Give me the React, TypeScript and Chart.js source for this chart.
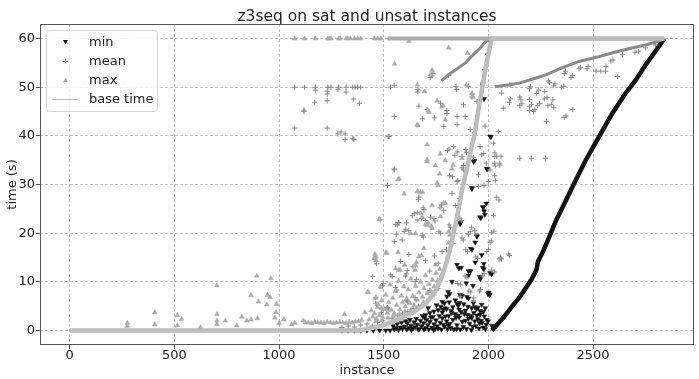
import React, { useEffect, useRef } from "react";
import { Chart, registerables } from "chart.js";

Chart.register(...registerables);

type P = [number, number];

const chartTitle = "z3seq on sat and unsat instances";
const xLabel = "instance";
const yLabel = "time (s)";
const xTicks = [0, 500, 1000, 1500, 2000, 2500];
const yTicks = [0, 10, 20, 30, 40, 50, 60];
const seriesNames = ["min", "mean", "max", "base time"];

const baseTime: P[] = [
  [0, 0], [1380, 0], [1420, 0.3], [1486, 0.9], [1565, 2.2], [1644, 3.8], [1700, 5.5], [1723, 6.7],
  [1750, 8.3], [1771, 10.4], [1790, 12.6], [1802, 14.4], [1823, 17.8], [1834, 20], [1850, 23.3],
  [1874, 28.9], [1900, 33.8], [1920, 37.8], [1935, 40.4], [1950, 44.8], [1968, 49.3], [1985, 53.5],
  [1995, 55.8], [2008, 58.5], [2016, 60], [2840, 60],
];

const minCurve: P[] = [
  [2016, 0], [2071, 2.6], [2110, 4.8], [2150, 6.9], [2205, 10.4], [2229, 12.4], [2237, 14.2],
  [2261, 16.2], [2291, 19.3], [2324, 22.7], [2356, 25.5], [2395, 28.9], [2430, 32], [2466, 35.1],
  [2529, 39.9], [2593, 44.7], [2656, 48.8], [2704, 51.5], [2751, 54.6], [2798, 57.4], [2840, 60],
];

const minAlongBase: P[] = [
  [1780, 11.2], [1795, 13.4], [1810, 16], [1825, 19], [1840, 22], [1855, 25.2], [1870, 28.4],
  [1885, 31.2], [1900, 34.2], [1915, 37.4], [1928, 40.6], [1940, 44], [1952, 47.4], [1964, 50.6],
  [1976, 53.6], [1990, 56.8], [2004, 59.4],
];

const minScatter: P[] = [
  [1979, 47.6], [2012, 39.8], [2008, 39.9], [1934, 34.9], [1929, 34.7], [1995, 33.2], [1992, 33.2],
  [1921, 29.1], [1921, 29.3], [1973, 25.4], [1980, 24.5], [1990, 26.1], [1983, 23.8], [1976, 25.3],
  [1964, 23.1], [1960, 23.3], [1945, 19.5], [1945, 19.3], [1937, 18.1], [1865, 21.9], [1866, 22.1],
  [1921, 16.6], [1916, 16.8], [1968, 15.5], [1850, 13.5], [1905, 12.2], [1915, 12.2], [1973, 12.9],
  [1978, 12.6], [1958, 11], [1962, 10.6], [2008, 11.8], [2016, 11.6], [1978, 13.7], [1937, 14],
  [1826, 10], [1859, 12.8], [1870, 12.9], [1905, 11.3], [1894, 9.7], [1926, 9.2], [1998, 7.5],
  [2002, 7.8], [2006, 7.3], [1802, 7], [1807, 7.9], [1815, 7.5], [1864, 7.3], [1874, 7.1],
  [1897, 6.9], [1905, 6.6], [1779, 5.9], [1790, 5.6], [1850, 5.5], [1856, 5.1], [1862, 5.7],
  [1783, 4.3], [1792, 4.6], [1935, 4.8], [1943, 4.4], [1950, 4.7], [1992, 2.2], [1998, 1.9], [2016, 1],
  [1550, 0.2], [1560, 0.5], [1570, 0.1], [1580, 0.6], [1590, 0.3], [1600, 0.8], [1610, 0.2],
  [1620, 0.5], [1630, 1.0], [1640, 0.4], [1650, 0.7], [1660, 1.2], [1670, 0.3], [1680, 0.9],
  [1690, 1.5], [1700, 0.5], [1710, 1.1], [1720, 1.8], [1730, 0.6], [1740, 1.3], [1750, 2.1],
  [1760, 0.4], [1770, 1.6], [1780, 2.5], [1790, 0.8], [1800, 1.9], [1810, 3.0], [1820, 0.5],
  [1830, 2.2], [1840, 3.4], [1850, 1.1], [1860, 2.7], [1870, 3.8], [1880, 0.7], [1890, 2.0],
  [1900, 3.2], [1910, 1.4], [1920, 2.6], [1930, 3.6], [1940, 0.9], [1950, 2.3], [1960, 3.3],
  [1970, 1.6], [1980, 2.9], [1990, 1.2], [1700, 3.2], [1720, 3.6], [1740, 3.9], [1760, 4.2],
  [1780, 3.7], [1800, 4.4], [1830, 4.8], [1860, 4.3], [1890, 4.1], [1920, 4.6], [1960, 4.0],
  [1975, 3.8], [1655, 2.4], [1675, 2.0], [1695, 2.6], [1715, 0.2], [1735, 2.8], [1755, 0.9],
  [1775, 0.2], [1795, 2.9], [1815, 1.4], [1835, 0.2], [1855, 3.1], [1875, 1.8], [1895, 0.3],
  [1915, 3.0], [1935, 1.9], [1955, 0.4], [1975, 0.6], [1300, 0], [1330, 0], [1360, 0], [1390, 0],
  [1420, 0], [1450, 0], [1480, 0], [1510, 0], [1530, 0],
  [1545, 0.9], [1565, 1.3], [1585, 1.6], [1605, 1.9], [1625, 2.2], [1645, 1.7], [1665, 0.2],
  [1685, 3.0], [1705, 2.2], [1725, 2.7], [1745, 0.3], [1765, 3.0], [1785, 1.2], [1805, 0.3],
  [1825, 3.6], [1845, 2.6], [1865, 0.2], [1885, 3.4], [1905, 2.4], [1925, 0.8], [1945, 3.1],
  [1965, 2.0], [1985, 0.3], [1712, 4.6], [1752, 5.2], [1772, 4.9], [1812, 5.8], [1842, 6.2],
  [1822, 4.0], [1882, 5.4], [1902, 4.9], [1928, 5.6], [1968, 5.3], [1985, 4.6], [1612, 1.5],
  [1632, 0.1], [1692, 0.2], [1738, 0.1], [1808, 1.1], [1848, 0.3], [1918, 0.1], [1958, 1.5],
];

const meanCurveLow: P[] = [
  [2030, 50.1], [2100, 50.5], [2150, 50.9], [2220, 51.8], [2277, 52.6], [2350, 54], [2433, 55.3],
  [2520, 56.2], [2594, 57.1], [2680, 58], [2751, 58.7], [2800, 59.3], [2840, 60],
];

const meanCurveHigh: P[] = [
  [1775, 51.3], [1810, 52.6], [1850, 53.8], [1890, 55], [1930, 56.8], [1960, 58], [1985, 59.3], [2006, 60],
];

const meanScatter: P[] = [
  [1075, 50], [1122, 50], [1173, 50], [1233, 50], [1248, 50], [1285, 50], [1320, 50], [1350, 50],
  [1362, 50], [1375, 50], [1390, 50], [1533, 50], [1119, 45], [1119, 45.3], [1170, 46.9], [1173, 49.4],
  [1230, 47.2], [1230, 49.2], [1230, 48.6], [1281, 49.6], [1320, 49], [1357, 47.6], [1384, 46.7],
  [1075, 41.6], [1230, 41.6], [1281, 40.4], [1296, 40.8], [1315, 39.2], [1315, 40.4], [1357, 39.3],
  [1352, 39.5], [1521, 39.9], [1526, 39.9], [1550, 50.4], [1550, 44], [1550, 33], [1518, 29.8],
  [1483, 22.7], [1557, 21.8], [1663, 49], [1663, 49.6], [1722, 52], [1730, 52.3], [1810, 52.4],
  [1845, 50.1], [1848, 49.6], [1905, 50.2], [1973, 51], [1771, 46.7], [1802, 45.2], [1802, 44.6],
  [1850, 44], [1889, 44], [1881, 46.4], [1921, 48], [1924, 48.6], [1945, 47.1], [1707, 45.4],
  [1668, 46.1], [1684, 43.5], [1742, 43.7], [1787, 41.9], [1850, 42.3], [1913, 41.3], [1960, 37.8],
  [1984, 42], [2024, 38.5], [2047, 40.9], [2031, 36.5], [2040, 35.8], [2060, 35.8], [1990, 34.4],
  [2030, 34.4], [2054, 34.4], [2008, 33], [2054, 34], [2150, 35.4], [2205, 35.4], [2273, 35.4],
  [2000, 30.6], [1953, 32], [1953, 29.6], [1834, 37.8], [1874, 35.8], [1840, 36], [1874, 33.4],
  [1880, 33], [1814, 31.8], [1828, 31.6], [1850, 30.6], [1550, 33.2],
  [2063, 48.8], [2103, 50.5], [2150, 48], [2155, 47.4], [2196, 49.7], [2200, 50.1], [2196, 47.5],
  [2229, 48.7], [2240, 49.4], [2286, 51.3], [2292, 51], [2269, 49.1], [2312, 50.3], [2318, 50.7],
  [2348, 50], [2360, 50.2], [2362, 52.8], [2368, 53.3], [2395, 52], [2402, 52.4], [2433, 53.8],
  [2440, 54.1], [2471, 53.8], [2476, 54.3], [2514, 53.3], [2537, 53.3], [2560, 53.3], [2561, 54.3],
  [2617, 52.2], [2585, 55.4], [2595, 55.6], [2640, 56.7], [2700, 57.2], [2716, 57.4], [2751, 58.1],
  [2798, 58.7], [2150, 46.2], [2160, 46.6], [2196, 46], [2206, 46.4], [2234, 46.2], [2244, 46.6],
  [2215, 45], [2222, 45.4], [2267, 47.6], [2280, 47.9], [2308, 47.4], [2284, 46.2], [2300, 46.5],
  [2312, 45.8], [2362, 43.8], [2370, 44.1], [2403, 45.4], [2277, 43], [2196, 45.2], [2101, 46.9],
  [2105, 47.6], [2071, 45.7],
  [1892, 37.2], [1895, 36.6], [1929, 35.6], [1968, 36.1], [1978, 36.4], [2030, 35.7], [2032, 33.8],
  [2030, 31.8], [2033, 30.8], [1979, 29.8], [2040, 27.4], [2050, 26.8], [2024, 23.6], [2015, 20.1],
  [2026, 20.4], [1913, 20.3], [1905, 19.8], [1920, 21.2], [1850, 36.7], [1812, 37.3], [1805, 37],
  [1881, 33.9], [1854, 30.8], [1826, 28.2], [1862, 27.1], [1842, 25.7], [1787, 24.7], [1723, 23.3],
  [1740, 23], [1745, 22.5], [1665, 26.9], [1668, 27.4], [1688, 25.2], [1692, 24.8], [1636, 23.6],
  [1609, 22.1], [1660, 22.7], [1573, 22.1], [1620, 20.5], [1684, 19.6], [1690, 19.2], [1588, 18.6],
  [1764, 20.3], [1772, 20],
  [1565, 21.7], [1570, 22.2], [1646, 24], [1660, 24.2], [1680, 23], [1700, 22.6], [1598, 20.3],
  [1605, 20.8], [1769, 25.2], [1775, 25.8], [1812, 21.7], [1818, 21.2], [1864, 23.1], [1872, 22.6],
  [1935, 20.5], [1940, 19.8], [1874, 19], [1880, 18.6], [1821, 18.2], [1830, 17.9], [1779, 16.2],
  [1800, 16.6], [1812, 16.2], [1892, 16.6], [1900, 16.2], [1940, 15.1], [1948, 14.8], [1992, 16.2],
  [2000, 16.6], [2051, 14.7], [2058, 14.9], [2062, 14.7], [2095, 15.7], [2100, 15.4], [2008, 18.1],
  [2015, 18.4], [2016, 12.4], [2028, 12], [1973, 11.2], [1980, 11.7], [1888, 11.2], [1897, 10.9],
  [1854, 9.6], [1866, 9.4], [1907, 8.1], [1916, 7.9], [1958, 8.1], [1962, 8.4], [1930, 6.7],
  [1928, 6.1], [1864, 7], [1712, 7.9], [1720, 8.2], [1550, 18.3], [1560, 19.8], [1466, 13.7],
  [1458, 14.6], [1532, 11.4], [1540, 11.1], [1447, 11.1], [1494, 9.2], [1498, 9.6], [1556, 8.8],
  [1562, 8.3], [1603, 11.2], [1608, 11.6], [1612, 12.3], [1650, 10], [1656, 10.5], [1650, 6.7],
  [1656, 6.3], [1608, 6.1], [1614, 5.9], [1518, 4.7], [1522, 4.4], [1462, 5.6], [1462, 6.8],
  [1515, 4.6], [1488, 3.7], [1580, 14.2], [1620, 15.6], [1640, 13.1], [1700, 14.4], [1720, 12.2],
  [1742, 15.3], [1760, 13.8],
  [1300, 0.6], [1330, 0.9], [1360, 0.7], [1390, 1.1], [1420, 1.3], [1445, 0.9], [1470, 1.6],
  [1495, 2.0], [1520, 1.5], [1540, 2.5], [1565, 3.0], [1590, 3.4], [1615, 3.9], [1640, 4.5],
  [1665, 5.0], [1690, 5.6], [1715, 6.4], [1740, 7.3], [1760, 8.6],
];

const maxTimeouts: P[] = [[1518, 60], [2840, 60]];

const maxScatter: P[] = [
  [275, 1.5], [275, 0.9], [406, 3.7], [406, 1.2], [514, 3.1], [534, 2.3], [514, 1.0], [624, 0.6],
  [703, 9.2], [703, 3.3], [703, 2.0], [703, 1.3], [743, 2.0], [798, 1.0], [822, 2.8], [846, 2.0],
  [866, 7.2], [866, 2.2], [893, 11.2], [901, 5.9], [897, 2.5], [941, 5.3], [945, 7.3], [957, 6.8],
  [961, 10.7], [980, 2.6], [985, 3.7], [988, 5.4], [1023, 2.2], [1000, 1.5], [1060, 1.2], [1075, 1.5],
  [1115, 2.0], [1125, 1.6], [1140, 1.6], [1155, 1.5], [1170, 1.7], [1185, 1.6], [1200, 1.6],
  [1215, 1.5], [1230, 1.7], [1245, 1.6], [1260, 1.5], [1275, 1.6], [1290, 1.7], [1312, 3.3],
  [1305, 1.6], [1320, 1.5], [1335, 1.7], [1350, 1.6], [1365, 1.8], [1380, 1.9], [1395, 2.1],
  [1410, 3.7], [1423, 7.9], [1426, 7.8], [1455, 14.9], [1458, 15.7], [1462, 6.7], [1470, 4.8],
  [1483, 8.9], [1488, 4.6], [1515, 15.9], [1557, 12.7],
  [1430, 2.2], [1440, 4.1], [1448, 2.8], [1456, 3.5], [1465, 2.4], [1472, 5.4], [1480, 3.1],
  [1490, 6.2], [1496, 2.7], [1503, 4.4], [1510, 7.3], [1517, 3.6], [1524, 5.8], [1530, 9.4],
  [1536, 4.2], [1543, 6.7], [1550, 3.5], [1556, 8.1], [1562, 5.2], [1570, 10.2], [1577, 4.3],
  [1584, 7.1], [1590, 5.8], [1596, 9.0], [1603, 4.9], [1610, 6.6], [1617, 8.4], [1624, 5.6],
  [1630, 10.6], [1638, 7.0], [1645, 5.2], [1652, 9.1], [1660, 6.3], [1668, 7.8], [1676, 10.0],
  [1684, 6.9], [1692, 8.7], [1700, 11.3], [1708, 7.6], [1716, 9.5], [1724, 8.1], [1732, 10.4],
  [1740, 9.0], [1750, 11.8], [1758, 10.2], [1768, 12.6], [1776, 11.2], [1462, 1.8], [1490, 2.0],
  [1520, 2.6], [1545, 2.9], [1575, 3.3], [1600, 3.9], [1630, 4.2], [1660, 4.6], [1690, 5.8],
  [1075, 60], [1122, 60], [1173, 60], [1233, 60], [1240, 60], [1248, 60], [1285, 60], [1292, 60],
  [1320, 60], [1328, 60], [1340, 60], [1360, 60], [1375, 60], [1390, 60], [1456, 60], [1470, 60],
  [1485, 60], [1620, 59.5],
  [1552, 54.8], [1810, 58.1], [1900, 57], [1731, 53.5], [1722, 52.6], [1736, 53], [1894, 50.5],
  [1921, 48.7], [1926, 48], [1755, 47.2], [1783, 46.3], [1716, 44.9], [1794, 43.3], [1660, 42.3],
  [1663, 42.1], [1660, 50.5], [1695, 49.1], [1779, 46], [1712, 45.2], [1707, 38.2], [1707, 35.1],
  [1707, 34.7], [1770, 36.3], [1794, 35], [1831, 34], [1874, 35.4], [1755, 30.3], [1760, 29.8],
  [1568, 31], [1573, 31.2], [1747, 33.9], [1767, 32.2], [1826, 33.2], [1597, 28.1], [1675, 28.4],
  [1685, 28.4], [1731, 25.7], [1794, 26.2], [1676, 24.1], [1771, 23.4], [1700, 21.8], [1708, 21.6],
  [1628, 19.9], [1810, 20.3], [1815, 19.6], [1810, 18], [1478, 22.9], [1462, 15.1], [1462, 14.4],
  [1510, 16], [1568, 16.1], [1570, 12.4], [1578, 12.4], [1600, 13.5], [1650, 12.4], [1652, 13.3],
  [1656, 14], [1692, 16.9], [1668, 15.2], [1680, 15.4], [1747, 13.5], [1731, 21], [1728, 21.4],
  [1652, 19.9], [1712, 22.1], [1787, 26.2], [1684, 23.3], [1660, 28.6],
];

const toXY = (arr: P[]) => arr.map(([x, y]) => ({ x, y }));

const FONT = '"DejaVu Sans", sans-serif';
const MIN_COLOR = "#141414";
const MEAN_COLOR = "#8a8a8a";
const MAX_COLOR = "#ababab";
const BASE_COLOR = "#bdbdbd";
const SPINE = "#555555";
const GRID = "#b5b5b5";

export default function App() {
  const ref = useRef<HTMLCanvasElement | null>(null);

  useEffect(() => {
    document.body.style.margin = "0";
    const canvas = ref.current;
    if (!canvas) return;

    const decor = {
      id: "decor",
      afterDraw(chart: any) {
        const { ctx, chartArea: a } = chart;
        ctx.save();
        ctx.setLineDash([]);
        ctx.strokeStyle = SPINE;
        ctx.lineWidth = 1;
        ctx.beginPath();
        ctx.moveTo(a.left, a.top + 0.5);
        ctx.lineTo(a.right, a.top + 0.5);
        ctx.moveTo(a.right - 0.5, a.top);
        ctx.lineTo(a.right - 0.5, a.bottom);
        ctx.moveTo(a.left + 0.5, a.top);
        ctx.lineTo(a.left + 0.5, a.bottom);
        ctx.moveTo(a.left, a.bottom - 0.5);
        ctx.lineTo(a.right, a.bottom - 0.5);
        ctx.stroke();

        ctx.fillStyle = "#222";
        ctx.textAlign = "center";
        ctx.textBaseline = "alphabetic";
        ctx.font = `15.5px ${FONT}`;
        ctx.fillText(chartTitle, (a.left + a.right) / 2, 21);
        ctx.font = `13px ${FONT}`;
        ctx.fillText(xLabel, (a.left + a.right) / 2, 374);
        ctx.save();
        ctx.translate(16, (a.top + a.bottom) / 2);
        ctx.rotate(-Math.PI / 2);
        ctx.fillText(yLabel, 0, 0);
        ctx.restore();

        const bx = 46.5, by = 30.5, bw = 111, bh = 81;
        ctx.beginPath();
        ctx.roundRect(bx, by, bw, bh, 3);
        ctx.fillStyle = "rgba(255,255,255,0.8)";
        ctx.fill();
        ctx.strokeStyle = "#d6d6d6";
        ctx.stroke();

        const rows = [42, 61, 80, 99];
        const mx = 65.5;
        ctx.fillStyle = MIN_COLOR;
        ctx.beginPath();
        ctx.moveTo(mx - 2.5, rows[0] - 2);
        ctx.lineTo(mx + 2.5, rows[0] - 2);
        ctx.lineTo(mx, rows[0] + 2.5);
        ctx.closePath();
        ctx.fill();
        ctx.strokeStyle = MEAN_COLOR;
        ctx.lineWidth = 1;
        ctx.beginPath();
        ctx.moveTo(mx - 2.5, rows[1] + 0.5);
        ctx.lineTo(mx + 2.5, rows[1] + 0.5);
        ctx.moveTo(mx, rows[1] - 2.5);
        ctx.lineTo(mx, rows[1] + 2.5);
        ctx.stroke();
        ctx.fillStyle = MAX_COLOR;
        ctx.beginPath();
        ctx.moveTo(mx - 2.5, rows[2] + 2);
        ctx.lineTo(mx + 2.5, rows[2] + 2);
        ctx.lineTo(mx, rows[2] - 2.5);
        ctx.closePath();
        ctx.fill();
        ctx.strokeStyle = BASE_COLOR;
        ctx.lineWidth = 1.2;
        ctx.beginPath();
        ctx.moveTo(52, rows[3] + 0.5);
        ctx.lineTo(78, rows[3] + 0.5);
        ctx.stroke();

        ctx.fillStyle = "#222";
        ctx.textAlign = "left";
        ctx.font = `13px ${FONT}`;
        seriesNames.forEach((name, i) => {
          ctx.fillText(name, 89, rows[i] + 4);
        });
        ctx.restore();
      },
    };

    const lineDs = (label: string, data: P[], color: string, width: number, order: number) => ({
      label,
      data: toXY(data),
      showLine: true,
      borderColor: color,
      backgroundColor: color,
      borderWidth: width,
      pointRadius: 0,
      fill: false,
      tension: 0,
      order,
    });

    const gridOpts = {
      color: GRID,
      lineWidth: 0.8,
      drawTicks: true,
      tickLength: 4,
      tickColor: SPINE,
      tickWidth: 1,
      tickBorderDash: [],
    };

    const chart = new Chart(canvas, {
      type: "scatter",
      data: {
        datasets: [
          lineDs("base time", baseTime, BASE_COLOR, 4.5, 0),
          lineDs("max timeouts", maxTimeouts, MAX_COLOR, 4, 1),
          {
            label: "max",
            data: toXY(maxScatter),
            pointStyle: "triangle",
            pointRadius: 2.8,
            backgroundColor: MAX_COLOR,
            borderColor: MAX_COLOR,
            borderWidth: 0.5,
            order: 1,
          },
          lineDs("mean high", meanCurveHigh, MEAN_COLOR, 3, 2),
          lineDs("mean low", meanCurveLow, MEAN_COLOR, 3, 2),
          {
            label: "mean",
            data: toXY(meanScatter),
            pointStyle: "cross",
            pointRadius: 2.6,
            backgroundColor: MEAN_COLOR,
            borderColor: MEAN_COLOR,
            borderWidth: 1,
            order: 2,
          },
          lineDs("min curve", minCurve, MIN_COLOR, 4.5, 3),
          {
            label: "min base",
            data: toXY(minAlongBase),
            pointStyle: "circle",
            pointRadius: 1,
            backgroundColor: MIN_COLOR,
            borderColor: MIN_COLOR,
            borderWidth: 0,
            order: 3,
          },
          {
            label: "min",
            data: toXY(minScatter),
            pointStyle: "triangle",
            rotation: 180,
            pointRadius: 2.8,
            backgroundColor: MIN_COLOR,
            borderColor: MIN_COLOR,
            borderWidth: 0.5,
            order: 3,
          },
        ],
      },
      options: {
        responsive: false,
        animation: false,
        devicePixelRatio: 1,
        layout: { padding: { top: 24, left: 0, right: 0, bottom: 0 } },
        plugins: {
          legend: { display: false },
          title: { display: false },
          tooltip: { enabled: false },
        },
        events: [],
        scales: {
          x: {
            type: "linear",
            min: -142,
            max: 2982,
            afterFit: (s: any) => {
              s.height = 34;
            },
            afterBuildTicks: (s: any) => {
              s.ticks = xTicks.map((v) => ({ value: v }));
            },
            ticks: {
              autoSkip: false,
              maxRotation: 0,
              padding: 0,
              color: "#222",
              font: { family: FONT, size: 13, lineHeight: 1 },
              callback: (v: any) => String(v),
            },
            grid: gridOpts,
            border: { display: false, dash: [3, 2] },
          },
          y: {
            type: "linear",
            min: -3,
            max: 63,
            afterFit: (s: any) => {
              s.width = 40;
            },
            afterBuildTicks: (s: any) => {
              s.ticks = yTicks.map((v) => ({ value: v }));
            },
            ticks: {
              autoSkip: false,
              padding: 1,
              color: "#222",
              font: { family: FONT, size: 13, lineHeight: 1 },
              callback: (v: any) => String(v),
            },
            grid: gridOpts,
            border: { display: false, dash: [3, 2] },
          },
        },
      },
      plugins: [decor],
    } as any);

    return () => chart.destroy();
  }, []);

  return (
    <div style={{ width: 699, height: 379, background: "#fff" }}>
      <canvas ref={ref} width={699} height={379} style={{ display: "block" }} />
    </div>
  );
}
